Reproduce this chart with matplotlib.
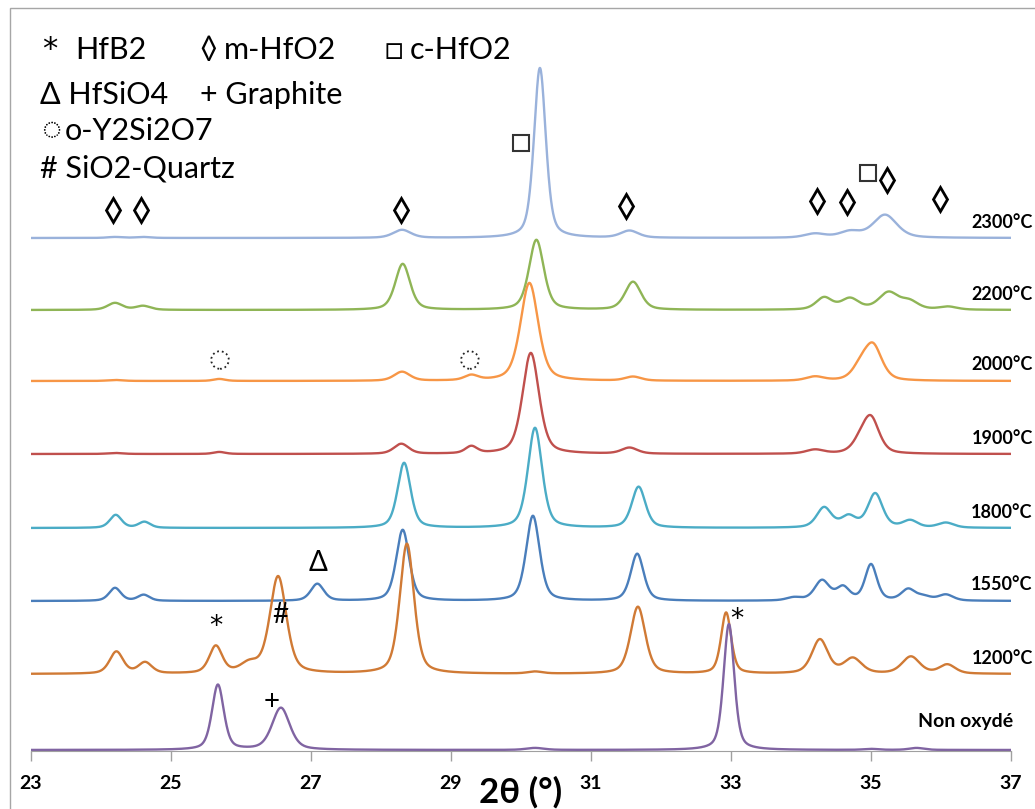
import numpy as np
import matplotlib
matplotlib.use("Agg")
import matplotlib.pyplot as plt
from matplotlib.patches import Rectangle

# ---- data: XRD peaks (2theta, intensity a.u., FWHM) ----
samples = ["2300°C", "2200°C", "2000°C", "1900°C", "1800°C", "1550°C", "1200°C", "Non oxydé"]
colors = ["#9AB2DB", "#8FB556", "#F79646", "#C0504D", "#4BACC6", "#4A7EBB", "#D07A35", "#8064A2"]
offsets = [513, 441, 370, 297, 223, 150, 77, 1]

peaks_2300 = [(24.2, 1, 0.25), (24.6, 1, 0.25), (28.3, 8, 0.3), (30.27, 170, 0.2),
              (31.55, 7, 0.3), (34.2, 4, 0.35), (34.7, 6, 0.35), (35.2, 23, 0.4)]
peaks_2200 = [(24.2, 7, 0.25), (24.6, 4, 0.25), (28.31, 46, 0.25), (30.22, 70, 0.25),
              (31.6, 28, 0.27), (34.33, 12, 0.27), (34.7, 11, 0.3), (35.25, 17, 0.33),
              (35.55, 8, 0.3), (36.1, 3, 0.3)]
peaks_2000 = [(24.2, 1, 0.25), (25.69, 2, 0.2), (28.3, 9, 0.27), (29.29, 5, 0.23),
              (30.12, 98, 0.3), (31.6, 4, 0.27), (34.2, 4, 0.3), (34.85, 12, 0.28),
              (35.03, 34, 0.3)]
peaks_1900 = [(24.2, 1, 0.25), (25.69, 2, 0.2), (28.29, 10, 0.25), (29.29, 7, 0.2),
              (30.14, 101, 0.28), (31.55, 6, 0.27), (34.2, 4, 0.3), (34.85, 10, 0.28),
              (35.0, 34, 0.28)]
peaks_1800 = [(24.21, 13, 0.2), (24.62, 6, 0.2), (28.33, 65, 0.22), (30.2, 100, 0.24),
              (31.68, 41, 0.23), (34.33, 20, 0.25), (34.68, 11, 0.25), (35.06, 34, 0.25),
              (35.56, 7, 0.25), (36.07, 5, 0.27)]
peaks_1550 = [(24.2, 13, 0.2), (24.61, 6, 0.2), (27.09, 17, 0.22), (28.31, 71, 0.22),
              (30.17, 85, 0.23), (31.66, 47, 0.22), (33.9, 3, 0.25), (34.3, 20, 0.25),
              (34.6, 13, 0.22), (35.0, 36, 0.2), (35.53, 11, 0.23), (35.75, 4, 0.25),
              (36.07, 6, 0.25)]
peaks_1200 = [(24.22, 22, 0.23), (24.63, 11, 0.23), (25.64, 27, 0.22), (26.12, 9, 0.3),
              (26.53, 97, 0.28), (28.37, 130, 0.24), (30.2, 2, 0.25), (31.67, 67, 0.25),
              (32.93, 61, 0.17), (34.27, 34, 0.27), (34.74, 15, 0.3), (35.57, 17, 0.3),
              (36.09, 9, 0.27)]
peaks_raw = [(25.67, 65, 0.2), (26.57, 42, 0.3), (30.2, 2, 0.3), (32.97, 126, 0.18),
             (35.0, 1, 0.25), (35.65, 2, 0.25)]
all_peaks = [peaks_2300, peaks_2200, peaks_2000, peaks_1900, peaks_1800,
             peaks_1550, peaks_1200, peaks_raw]

# phase markers (2theta, level)
diamond_x = [24.17, 24.57, 28.29, 31.5, 34.23, 34.66, 35.23, 35.99]
diamond_y = [541, 541, 541, 545, 550, 549, 571, 552]
square_x = [30.0, 34.96]
square_y = [608, 578]
circle_x = [25.7, 29.27]
circle_y = [391, 391]
symbol_txt = ["*", "#", "Δ", "+", "*"]
symbol_x = [25.64, 26.56, 27.1, 26.44, 33.08]
symbol_y = [124, 136, 188, 49, 131]

W, H = 1035, 809
two_theta = np.linspace(23, 37, 2801)
FONT = ["Lato", "DejaVu Sans"]


def pattern(peaks):
    """pseudo-Voigt sum for one diffractogram"""
    y = np.zeros_like(two_theta)
    for c, h, w in peaks:
        g = np.exp(-4 * np.log(2) * ((two_theta - c) / w) ** 2)
        l = 1 / (1 + 4 * ((two_theta - c) / w) ** 2)
        y += h * (0.55 * g + 0.45 * l)
    return y


fig = plt.figure(figsize=(W / 100, H / 100), dpi=100)
ax = fig.add_axes([31 / W, 1 - 751 / H, 980 / W, 741 / H])

for name, col, off, pk in zip(samples, colors, offsets, all_peaks):
    ax.plot(two_theta, off + pattern(pk), color=col, lw=1.7, solid_joinstyle="round")
    if name == "Non oxydé":
        ax.text(37.03, off + 28, name, ha="right", va="center", fontsize=14,
                fontweight="bold", family=FONT, clip_on=False)
    else:
        ax.text(37.31, off + 16, name, ha="right", va="center", fontsize=13,
                fontweight="bold", family=FONT, clip_on=False)

ax.plot(diamond_x, diamond_y, ls="none", marker="d", ms=12, mfc="white",
        mec="black", mew=2.0)
ax.plot(square_x, square_y, ls="none", marker="s", ms=11.5, mfc="none",
        mec="#333333", mew=1.5)
ax.scatter(circle_x, circle_y, s=160, facecolors="none", edgecolors="#222222",
           linewidths=1.3, linestyles=":")
for t, x, y in zip(symbol_txt, symbol_x, symbol_y):
    fam = ["DejaVu Sans"] if t == "*" else FONT
    ax.text(x, y, t, ha="center", va="center", fontsize=20 if t != "*" else 19,
            family=fam)

ax.set_xlim(23, 37)
ax.set_ylim(0, 741)
ax.set_xticks(range(23, 38, 2))
ax.tick_params(axis="x", length=7, width=1, color="#a0a0a0", pad=10, labelsize=14)
for lab in ax.get_xticklabels():
    lab.set_fontweight("bold")
    lab.set_family(FONT)
ax.set_yticks([])
for s in ["top", "right", "left"]:
    ax.spines[s].set_visible(False)
ax.spines["bottom"].set_color("#a0a0a0")
ax.text(30.0, -41, "2θ (°)", ha="center", va="center", fontsize=25,
        fontweight="bold", family=FONT, clip_on=False)

# phase legend written as plain text, top left
legend_items = [("HfB2", 75, 50), ("◊", 199, 50), ("m-HfO2", 224, 50),
                ("□", 385, 50), ("c-HfO2", 410, 50), ("Δ HfSiO4", 40, 95),
                ("+ Graphite", 200, 95), ("◌", 41, 131), ("o-Y2Si2O7", 65, 131),
                ("# SiO2-Quartz", 40, 168)]
for t, px, py in legend_items:
    fig.text(px / W, 1 - py / H, t, ha="left", va="center", fontsize=22, family=FONT)
fig.text(42 / W, 1 - 50 / H, "*", ha="left", va="center", fontsize=22,
         family=["DejaVu Sans"])

fig.add_artist(Rectangle((10 / W, -0.1), 1.1, 1.1 - 8 / H, transform=fig.transFigure,
                         fill=False, edgecolor="#a6a6a6", lw=1))

fig.savefig("out.png", dpi=100)
